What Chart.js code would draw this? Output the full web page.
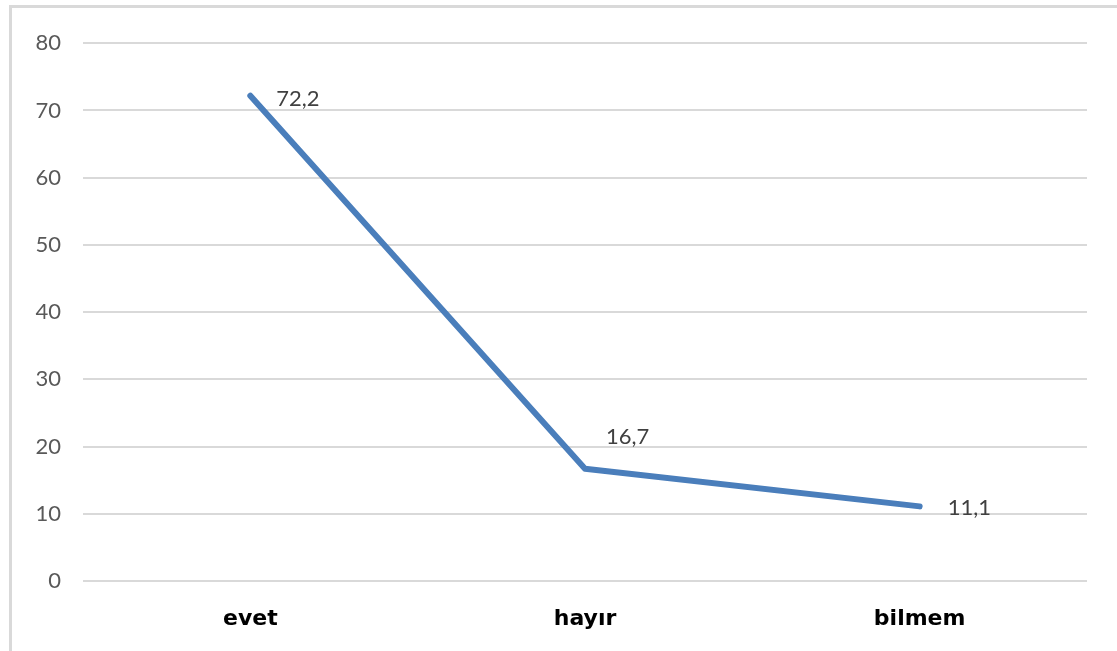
<!DOCTYPE html>
<html>
<head>
<meta charset="utf-8">
<script src="https://cdn.jsdelivr.net/npm/chart.js@4/dist/chart.umd.min.js"></script>
<style>
    html, body { margin: 0; padding: 0; background: #fff; overflow: hidden; }
    .frame {
        position: absolute; left: 9px; top: 5px; width: 1200px; height: 700px;
        border-left: 3px solid #d9d9d9; border-top: 3px solid #d9d9d9;
    }
    .wrap { position: absolute; left: 11px; top: 8px; width: 1106px; height: 643px; }
</style>
</head>
<body>
<div class="frame"></div>
<div class="wrap"><canvas id="chart"></canvas></div>
<script>
const CATEGORIES = ['evet', 'hayır', 'bilmem'];
const VALUES = [72.2, 16.7, 11.1];
const LABELS = ['72,2', '16,7', '11,1'];
const Y_MIN = 0, Y_MAX = 80, Y_STEP = 10;

// label offset from the point (dx to left edge of text, dy to text centre)
const LABEL_OFFSETS = [[26, 3], [21, -32], [28, 2]];

const pointLabels = {
    id: 'pointLabels',
    afterDatasetsDraw(chart) {
        const ctx = chart.ctx;
        const meta = chart.getDatasetMeta(0);
        ctx.save();
        ctx.font = '22px Lato';
        ctx.fillStyle = '#404040';
        ctx.textAlign = 'left';
        ctx.textBaseline = 'middle';
        meta.data.forEach((pt, i) => {
            const [dx, dy] = LABEL_OFFSETS[i];
            ctx.fillText(LABELS[i], pt.x + dx, pt.y + dy);
        });
        ctx.restore();
    }
};

new Chart(document.getElementById('chart'), {
    type: 'line',
    data: {
        labels: CATEGORIES,
        datasets: [{
            data: VALUES,
            borderColor: '#4a7ebb',
            borderWidth: 6,
            borderCapStyle: 'round',
            borderJoinStyle: 'round',
            tension: 0,
            pointRadius: 0,
            fill: false
        }]
    },
    options: {
        responsive: true,
        maintainAspectRatio: false,
        animation: false,
        layout: { padding: { top: 30, right: 30, left: 0, bottom: 0 } },
        plugins: { legend: { display: false }, tooltip: { enabled: false } },
        scales: {
            x: {
                offset: true,
                grid: { display: false },
                border: { display: false },
                ticks: { color: '#000', padding: 17, font: { family: 'DejaVu Sans', size: 22, weight: 'bold' } },
                afterFit(scale) { scale.height = 70; }
            },
            y: {
                min: Y_MIN,
                max: Y_MAX,
                ticks: { stepSize: Y_STEP, color: '#595959', padding: 22, font: { family: 'Lato', size: 22 } },
                grid: { color: '#d9d9d9', lineWidth: 2, drawTicks: false },
                border: { display: false },
                afterFit(scale) { scale.width = 72; }
            }
        }
    },
    plugins: [pointLabels]
});
</script>
</body>
</html>
